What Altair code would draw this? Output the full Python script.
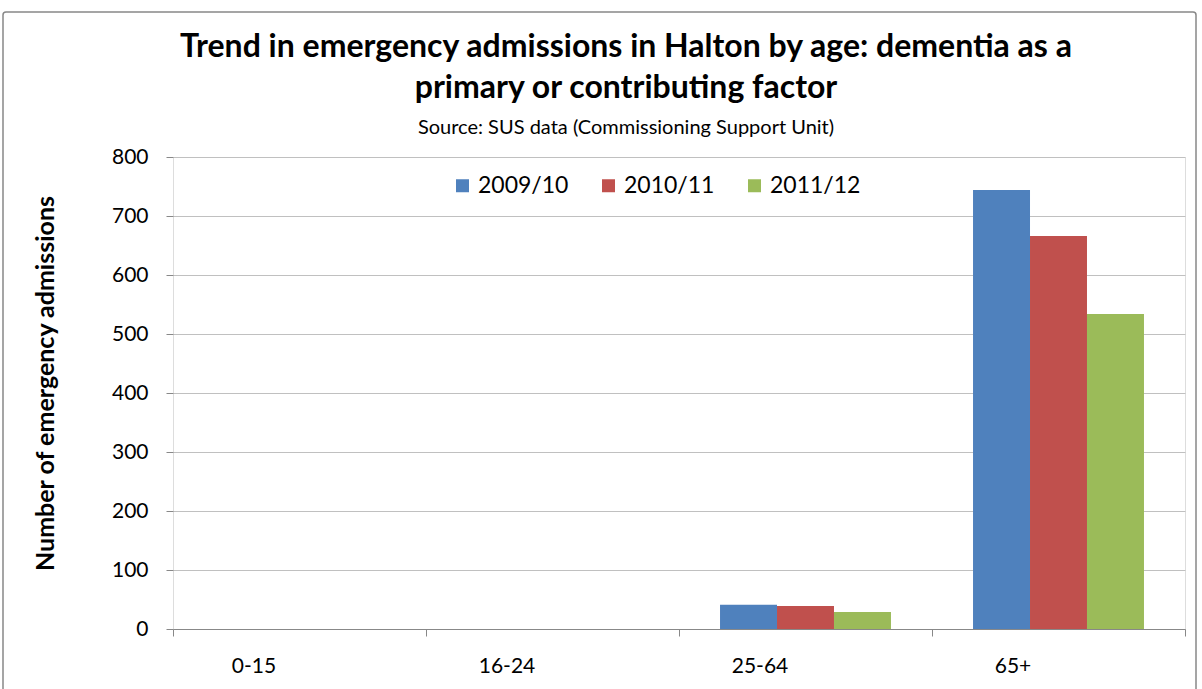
import altair as alt
import pandas as pd

age_groups = ["0-15", "16-24", "25-64", "65+"]
years = ["2009/10", "2010/11", "2011/12"]
v_2009 = [0, 0, 41, 744]
v_2010 = [0, 0, 39, 666]
v_2011 = [0, 0, 29, 534]
colors = ["#4F81BD", "#C0504D", "#9BBB59"]

title_lines = ["Trend in emergency admissions in Halton by age: dementia as a",
               "primary or contributing factor"]
subtitle = "Source: SUS data (Commissioning Support Unit)"

rows = []
for yr, vals in zip(years, [v_2009, v_2010, v_2011]):
    for a, v in zip(age_groups, vals):
        rows.append({"age": a, "year": yr, "value": v})
df = pd.DataFrame(rows)

FONT = "Lato"

bars = alt.Chart(df).mark_bar().encode(
    x=alt.X("age:N", sort=age_groups,
            scale=alt.Scale(paddingInner=0, paddingOuter=0),
            axis=alt.Axis(title=None, labelAngle=0, labelFontSize=21, labelFont=FONT,
                          labelColor="#000", labelPadding=19, labelOffset=-46,
                          domainColor="#888",
                          tickColor="#888", tickSize=7, tickBand="extent", grid=False)),
    xOffset=alt.XOffset("year:N", sort=years,
                        scale=alt.Scale(paddingInner=0, paddingOuter=0.72)),
    y=alt.Y("value:Q", scale=alt.Scale(domain=[0, 800], nice=False),
            axis=alt.Axis(values=list(range(0, 801, 100)), title="Number of emergency admissions",
                          titleFont=FONT, titleFontSize=25, titleFontWeight="bold",
                          titleColor="#000", titleAngle=-90, titleX=-128, titleY=226,
                          titleAlign="center", titleBaseline="middle",
                          labelFontSize=21, labelFont=FONT, labelColor="#000",
                          labelPadding=18, domain=False, tickColor="#888", tickSize=7,
                          gridColor="#c0c0c0")),
    color=alt.Color("year:N", sort=years,
                    scale=alt.Scale(domain=years, range=colors),
                    legend=alt.Legend(title=None, orient="none", legendX=278, legendY=17,
                                      direction="horizontal", symbolType="square",
                                      symbolSize=169, symbolStrokeWidth=0, padding=0,
                                      labelFont=FONT, labelFontSize=23, labelColor="#000",
                                      columnPadding=28, labelOffset=4)),
)

tdf = pd.DataFrame({"t": [title_lines[0], title_lines[1], subtitle],
                    "k": ["l1", "l2", "sub"]})

t1 = alt.Chart(tdf).transform_filter(alt.datum.k == "l1").mark_text(
    font=FONT, fontSize=32, fontWeight="bold", color="#000", baseline="middle", align="center"
).encode(text="t:N", x=alt.value(453), y=alt.value(-110))
t2 = alt.Chart(tdf).transform_filter(alt.datum.k == "l2").mark_text(
    font=FONT, fontSize=32, fontWeight="bold", color="#000", baseline="middle", align="center"
).encode(text="t:N", x=alt.value(453), y=alt.value(-69))
t3 = alt.Chart(tdf).transform_filter(alt.datum.k == "sub").mark_text(
    font=FONT, fontSize=20, color="#000", baseline="middle", align="center"
).encode(text="t:N", x=alt.value(453), y=alt.value(-29))

border = alt.Chart(pd.DataFrame({"a": [1]})).mark_rect(
    fill=None, stroke="#888", strokeWidth=1.5, cornerRadius=3
).encode(x=alt.value(-170), x2=alt.value(1023), y=alt.value(-145), y2=alt.value(560))

chart = alt.layer(bars, t1, t2, t3, border).properties(
    width=1012, height=472,
    padding={"left": 173, "top": 157, "right": 17, "bottom": 60},
    autosize=alt.AutoSizeParams(type="none"),
).configure_view(stroke=None).configure(background="white")

chart.save("out.html", embed_options={"renderer": "svg", "actions": False})
